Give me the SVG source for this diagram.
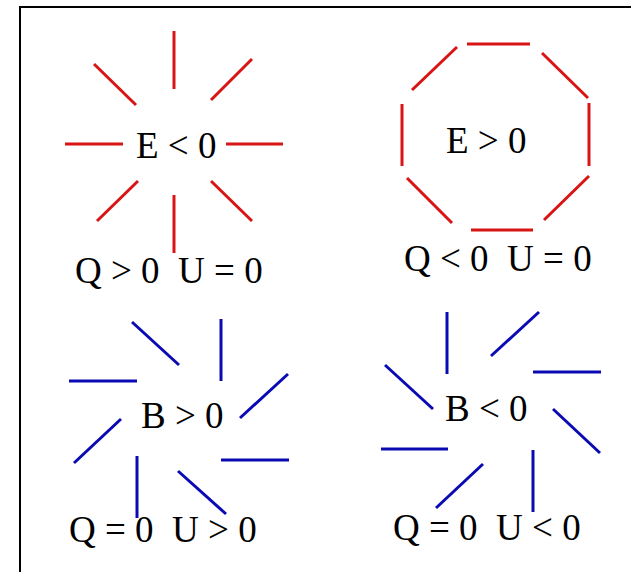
<svg xmlns="http://www.w3.org/2000/svg" width="631" height="572" viewBox="0 0 631 572">
<style>
.r line{stroke:#d81414;stroke-width:3;stroke-linecap:butt}
.b line{stroke:#0a0ab4;stroke-width:3;stroke-linecap:butt}
text{font-family:"Liberation Serif","Times New Roman",serif;font-size:37px;fill:#000}
</style>
<rect x="0" y="0" width="631" height="572" fill="#fff"/>
<rect x="20" y="7" width="640" height="600" fill="none" stroke="#000" stroke-width="2"/>
<g id="node-e-neg">
<g class="r">
<line x1="174" y1="31" x2="174" y2="89"/>
<line x1="252" y1="59" x2="211" y2="100"/>
<line x1="94" y1="64" x2="136" y2="105"/>
<line x1="65" y1="144" x2="123" y2="144"/>
<line x1="226" y1="144" x2="283" y2="144"/>
<line x1="138" y1="181" x2="97" y2="221"/>
<line x1="174" y1="195" x2="174" y2="253"/>
<line x1="211" y1="181" x2="252" y2="221"/>
</g>
<text x="136" y="158">E &lt; 0</text>
<text x="75" y="283" xml:space="preserve">Q &gt; 0  U = 0</text>
</g>
<g id="node-e-pos">
<g class="r">
<line x1="467" y1="44" x2="530" y2="44"/>
<line x1="542" y1="53" x2="588" y2="98"/>
<line x1="589" y1="103" x2="589" y2="166"/>
<line x1="589" y1="176" x2="544" y2="220"/>
<line x1="471" y1="230" x2="533" y2="230"/>
<line x1="452" y1="223" x2="407" y2="178"/>
<line x1="402" y1="104" x2="402" y2="166"/>
<line x1="412" y1="90" x2="457" y2="47"/>
</g>
<text x="446" y="153">E &gt; 0</text>
<text x="404" y="271" xml:space="preserve">Q &lt; 0  U = 0</text>
</g>
<g id="node-b-pos">
<g class="b">
<line x1="132" y1="322" x2="179" y2="365"/>
<line x1="221" y1="319" x2="221" y2="381"/>
<line x1="69" y1="381" x2="137" y2="381"/>
<line x1="288" y1="374" x2="240" y2="418"/>
<line x1="121" y1="419" x2="74" y2="463"/>
<line x1="221" y1="460" x2="289" y2="460"/>
<line x1="137" y1="456" x2="137" y2="518"/>
<line x1="178" y1="471" x2="226" y2="514"/>
</g>
<text x="141" y="428">B &gt; 0</text>
<text x="69" y="542" xml:space="preserve">Q = 0  U &gt; 0</text>
</g>
<g id="node-b-neg">
<g class="b">
<line x1="447" y1="312" x2="447" y2="374"/>
<line x1="539" y1="312" x2="491" y2="356"/>
<line x1="533" y1="372" x2="601" y2="372"/>
<line x1="385" y1="365" x2="433" y2="409"/>
<line x1="553" y1="409" x2="600" y2="453"/>
<line x1="381" y1="449" x2="448" y2="449"/>
<line x1="483" y1="464" x2="436" y2="508"/>
<line x1="533" y1="450" x2="533" y2="512"/>
</g>
<text x="445" y="421">B &lt; 0</text>
<text x="393" y="540" xml:space="preserve">Q = 0  U &lt; 0</text>
</g>
<g id="connectors"/>
</svg>
